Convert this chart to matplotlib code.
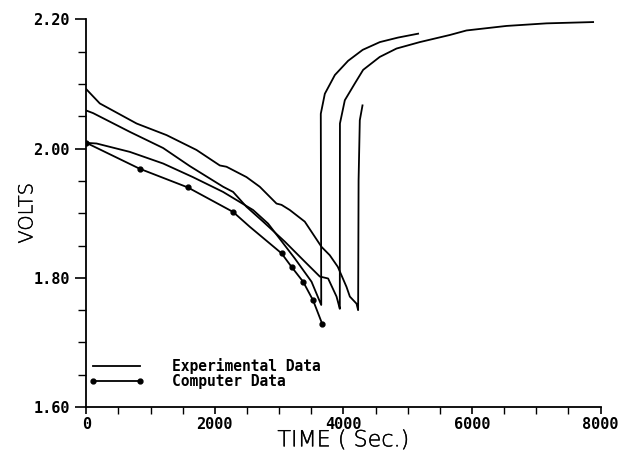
import matplotlib
matplotlib.use("Agg")
import matplotlib.pyplot as plt
import matplotlib.patheffects as pe
import numpy as np

# experimental discharge/recovery runs (time in s, volts)
exp_a_t = [0, 210, 781, 832, 1248, 1714, 2077, 2181, 2492, 2699, 2959, 3037, 3166,
           3399, 3659, 3788, 3913, 4048, 4100, 4204, 4229, 4236, 4255, 4297]
exp_a_v = [2.092, 2.070, 2.039, 2.037, 2.021, 1.998, 1.974, 1.972, 1.956, 1.941, 1.915,
           1.913, 1.905, 1.887, 1.848, 1.835, 1.817, 1.786, 1.771, 1.760, 1.750, 1.951,
           2.044, 2.067]

exp_b_t = [0, 106, 677, 1195, 1610, 2129, 2284, 2492, 2751, 3089, 3400, 3633, 3762,
           3893, 3928, 3944, 3946, 4022, 4178, 4307, 4565, 4826, 5189, 5656, 5915,
           6537, 7160, 7885]
exp_b_v = [2.059, 2.055, 2.026, 2.001, 1.973, 1.941, 1.933, 1.910, 1.887, 1.856, 1.825,
           1.802, 1.799, 1.771, 1.758, 1.752, 2.039, 2.075, 2.101, 2.122, 2.142, 2.155,
           2.165, 2.176, 2.183, 2.190, 2.194, 2.196]

exp_c_t = [0, 159, 677, 1195, 1657, 2128, 2595, 2828, 3244, 3504, 3655, 3648, 3711,
           3867, 4073, 4300, 4567, 4850, 5162]
exp_c_v = [2.009, 2.008, 1.995, 1.977, 1.956, 1.933, 1.905, 1.884, 1.830, 1.794, 1.758,
           2.054, 2.085, 2.114, 2.136, 2.153, 2.165, 2.172, 2.178]

# computer simulation
comp_t = [0, 828, 1579, 2284, 2544, 3037, 3193, 3373, 3529, 3669]
comp_v = [2.009, 1.969, 1.940, 1.902, 1.879, 1.838, 1.817, 1.794, 1.765, 1.729]
comp_marker_idx = [0, 1, 2, 3, 5, 6, 7, 8, 9]

fig = plt.figure(figsize=(6.21, 4.53), dpi=100)
ax = fig.add_axes([0.139, 0.1015, 0.828, 0.8555])

lw = 1.3
line_exp, = ax.plot(exp_a_t, exp_a_v, color='black', lw=lw, label='Experimental Data')
ax.plot(exp_b_t, exp_b_v, color='black', lw=lw)
ax.plot(exp_c_t, exp_c_v, color='black', lw=lw)
line_comp, = ax.plot(comp_t, comp_v, color='black', lw=lw, marker='o', markersize=3.5,
                     markevery=comp_marker_idx, label='Computer Data')

ax.set_xlim(0, 8000)
ax.set_ylim(1.6, 2.2)
ax.set_xticks(np.arange(0, 8001, 2000))
ax.set_xticks(np.arange(0, 8001, 500), minor=True)
ax.set_yticks([1.6, 1.8, 2.0, 2.2])
ax.set_yticks(np.arange(1.6, 2.201, 0.05), minor=True)
ax.set_xticklabels(['0', '2000', '4000', '6000', '8000'])
ax.set_yticklabels(['1.60', '1.80', '2.00', '2.20'])

for s in ['top', 'right']:
    ax.spines[s].set_visible(False)
for s in ['left', 'bottom']:
    ax.spines[s].set_linewidth(1.3)

for lab in ax.get_xticklabels() + ax.get_yticklabels():
    lab.set_fontfamily('DejaVu Sans Mono')
    lab.set_fontweight('bold')
    lab.set_fontsize(11)

ax.tick_params(axis='y', which='major', direction='out', length=8, width=1.2, pad=4)
ax.tick_params(axis='y', which='minor', direction='out', length=6, width=1.0)
ax.tick_params(axis='x', which='major', direction='out', length=5, width=1.2, pad=2)
ax.tick_params(axis='x', which='minor', direction='out', length=5, width=1.0)

thin_dark = [pe.withStroke(linewidth=0.25, foreground='black')]
xl = ax.set_xlabel('TIME ( Sec.)', fontsize=16, fontweight='light', labelpad=-1)
yl = ax.set_ylabel('VOLTS', fontsize=14, fontweight='light')
xl.set_path_effects(thin_dark)
yl.set_path_effects(thin_dark)
ax.yaxis.set_label_coords(-0.097, 0.5)

ax.legend(handles=[line_exp, line_comp], loc='lower left', bbox_to_anchor=(0.005, 0.047),
          frameon=False, numpoints=2, handlelength=3.8, handletextpad=1.9,
          labelspacing=0.0, borderpad=0, borderaxespad=0,
          prop=dict(family='DejaVu Sans Mono', weight='bold', size=10.5))

fig.savefig('out.png', dpi=100)
